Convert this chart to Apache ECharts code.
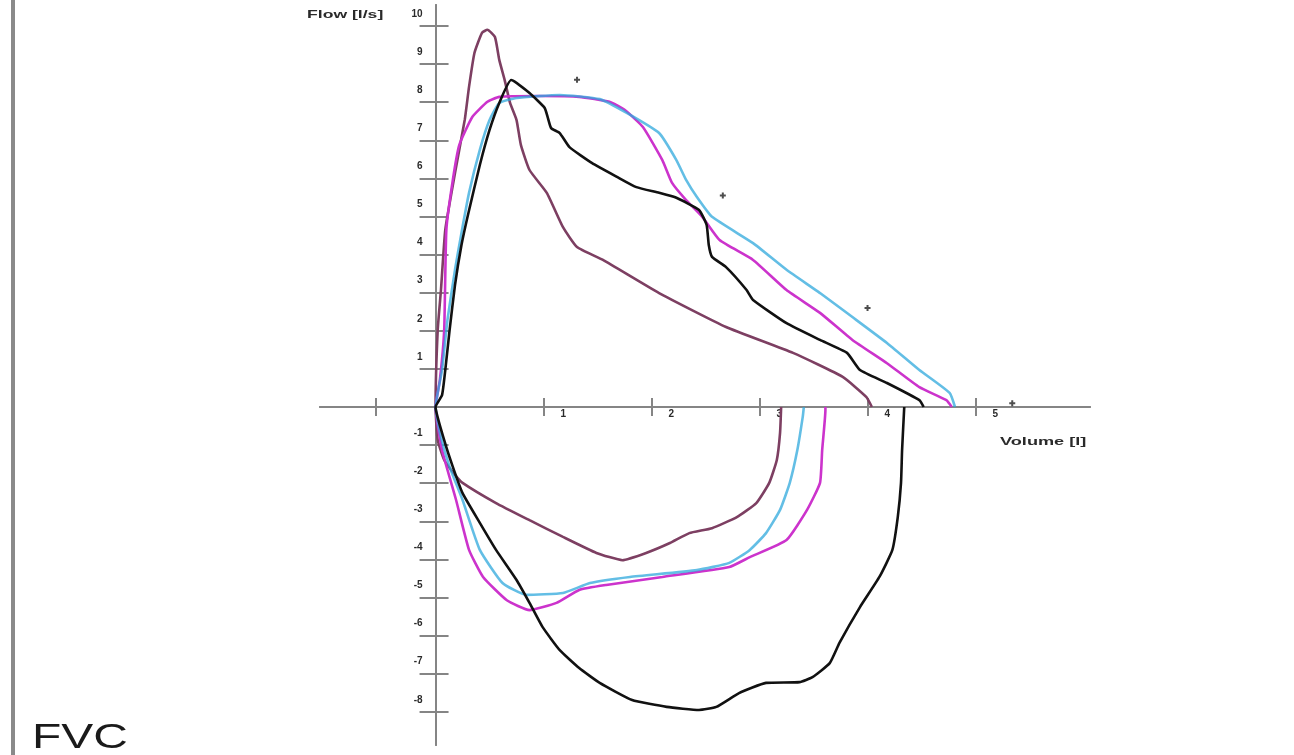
<!DOCTYPE html>
<html><head><meta charset="utf-8">
<script src="https://cdn.jsdelivr.net/npm/echarts@6/dist/echarts.min.js"></script>
<style>html,body{margin:0;padding:0;background:#fff}#c{width:1294px;height:755px}</style>
</head><body><div id="c"></div>
<script>
// Flow-volume loops: [volume (l), flow (l/s)]
const maroonExp = [[0,0],[0.02,2.02],[0.05,3.07],[0.09,4.65],[0.18,6.14],[0.27,7.53],[0.31,8.40],[0.36,9.29],[0.43,9.82],[0.48,9.90],[0.55,9.71],[0.59,9.11],[0.64,8.58],[0.69,7.98],[0.75,7.53],[0.79,6.88],[0.87,6.22],[1.03,5.62],[1.18,4.72],[1.31,4.20],[1.55,3.86],[2.07,2.99],[2.69,2.10],[3.31,1.42],[3.77,0.79],[3.99,0.26],[4.04,0]];
const maroonInsp = [[0,0],[0.02,-0.87],[0.08,-1.39],[0.18,-1.78],[0.25,-1.99],[0.56,-2.52],[0.87,-2.97],[1.18,-3.41],[1.49,-3.83],[1.73,-4.02],[1.95,-3.83],[2.17,-3.57],[2.35,-3.31],[2.56,-3.18],[2.79,-2.89],[2.97,-2.52],[3.09,-1.99],[3.16,-1.39],[3.19,-0.68],[3.20,0]];
const blackExp = [[0,0],[0.06,0.31],[0.09,0.97],[0.13,2.02],[0.18,3.20],[0.24,4.25],[0.30,5.04],[0.41,6.35],[0.50,7.27],[0.59,7.98],[0.70,8.58],[0.87,8.24],[1.01,7.85],[1.04,7.59],[1.07,7.32],[1.15,7.19],[1.24,6.82],[1.45,6.40],[1.68,6.04],[1.86,5.77],[2.07,5.62],[2.23,5.49],[2.44,5.17],[2.51,4.78],[2.53,4.25],[2.56,3.94],[2.69,3.67],[2.88,3.07],[2.94,2.81],[3.25,2.20],[3.56,1.76],[3.81,1.42],[3.93,0.97],[4.18,0.63],[4.48,0.18],[4.52,0]];
const blackInsp = [[0,0],[0.08,-0.87],[0.16,-1.57],[0.25,-2.26],[0.41,-3.04],[0.56,-3.75],[0.75,-4.54],[0.87,-5.14],[0.99,-5.77],[1.15,-6.38],[1.33,-6.85],[1.52,-7.24],[1.82,-7.69],[2.14,-7.87],[2.44,-7.95],[2.60,-7.87],[2.81,-7.51],[3.06,-7.24],[3.37,-7.22],[3.49,-7.09],[3.65,-6.72],[3.74,-6.19],[3.93,-5.25],[4.11,-4.46],[4.23,-3.75],[4.28,-2.89],[4.31,-1.99],[4.32,-1.13],[4.34,0]];
const magentaExp = [[0,0],[0.04,0.71],[0.08,2.02],[0.10,4.65],[0.16,5.96],[0.22,6.88],[0.34,7.61],[0.48,8.01],[0.59,8.14],[0.96,8.16],[1.33,8.14],[1.61,8.01],[1.75,7.80],[1.92,7.35],[2.10,6.48],[2.19,5.88],[2.32,5.43],[2.47,4.99],[2.63,4.38],[2.94,3.86],[3.25,3.07],[3.56,2.47],[3.86,1.76],[4.18,1.15],[4.48,0.52],[4.73,0.18],[4.78,0]];
const magentaInsp = [[0,0],[0.06,-1.13],[0.19,-2.44],[0.31,-3.75],[0.44,-4.46],[0.66,-5.07],[0.87,-5.33],[1.12,-5.14],[1.33,-4.80],[1.58,-4.67],[2.10,-4.46],[2.72,-4.20],[2.91,-3.94],[3.25,-3.49],[3.44,-2.70],[3.56,-1.99],[3.58,-1.13],[3.61,-0.08],[3.61,0]];
const cyanExp = [[0,0],[0.06,0.97],[0.11,2.28],[0.18,3.60],[0.24,4.57],[0.31,5.62],[0.41,6.75],[0.50,7.53],[0.59,7.98],[0.75,8.11],[1.15,8.19],[1.52,8.08],[1.77,7.72],[2.07,7.19],[2.23,6.48],[2.32,5.96],[2.42,5.51],[2.56,4.99],[2.94,4.30],[3.25,3.60],[3.56,2.99],[3.86,2.36],[4.18,1.68],[4.48,0.97],[4.76,0.37],[4.81,0]];
const cyanInsp = [[0,0],[0.04,-0.68],[0.13,-1.57],[0.25,-2.44],[0.41,-3.75],[0.62,-4.62],[0.84,-4.93],[1.18,-4.88],[1.43,-4.62],[1.80,-4.46],[2.42,-4.28],[2.72,-4.09],[2.91,-3.75],[3.06,-3.31],[3.19,-2.70],[3.28,-1.99],[3.35,-1.13],[3.40,-0.26],[3.41,0]];
const markers = [[1.31,8.59],[2.66,5.55],[4.0,2.60],[5.34,0.10]];
const xTickValues = [-0.55,1,2,3,4,5];
const xLabelValues = [1,2,3,4,5];
const yTickValues = [-8,-7,-6,-5,-4,-3,-2,-1,0,1,2,3,4,5,6,7,8,9,10];
const yLabelValues = [-8,-7,-6,-5,-4,-3,-2,-1,1,2,3,4,5,6,7,8,9,10];

const X_MIN = -1.07, X_MAX = 6.06, Y_MIN = -8.87, Y_MAX = 10.55;
const GRID = { left: 320, right: 204, top: 5, bottom: 10 };
const W = 1294, H = 755;
// offsets that bring the label-only axes onto the zero lines
const plotW = W - GRID.left - GRID.right, plotH = H - GRID.top - GRID.bottom;
const yAxisOffset = -(-X_MIN / (X_MAX - X_MIN)) * plotW;
const xAxisOffset = -(-Y_MIN / (Y_MAX - Y_MIN)) * plotH;

const loop = (insp, exp) => insp.slice().reverse().concat(exp.slice(1));
const chart = echarts.init(document.getElementById('c'));
const axisColor = '#858585';
const lineSeries = (name, data, color, opacity) => ({
  name, type: 'line', data, showSymbol: false, symbol: 'none', smooth: 0.15,
  lineStyle: { color, width: 2.6, opacity: opacity }, z: 3, animation: false
});
const labelStyle = { color: '#2a2a2a', fontSize: 10, fontWeight: 'bold', fontFamily: '"Liberation Sans", Arial' };
chart.setOption({
  animation: false,
  backgroundColor: '#ffffff',
  grid: GRID,
  xAxis: [
    { type: 'value', min: X_MIN, max: X_MAX, position: 'bottom',
      axisLine: { onZero: true, onZeroAxisIndex: 0, lineStyle: { color: axisColor, width: 2 } },
      axisTick: { show: true, customValues: xTickValues, length: 9, lineStyle: { color: axisColor, width: 2 } },
      axisLabel: { show: false }, splitLine: { show: false } },
    { type: 'value', min: X_MIN, max: X_MAX, position: 'top',
      axisLine: { onZero: true, onZeroAxisIndex: 0, lineStyle: { color: axisColor, width: 2 } },
      axisTick: { show: true, customValues: xTickValues, length: 9, lineStyle: { color: axisColor, width: 2 } },
      axisLabel: { show: false }, splitLine: { show: false } },
    { type: 'value', min: X_MIN, max: X_MAX, position: 'bottom', offset: xAxisOffset,
      axisLine: { show: false, onZero: false }, axisTick: { show: false },
      axisLabel: Object.assign({ customValues: xLabelValues, align: 'left', padding: [0,0,0,17], margin: 2 }, labelStyle),
      splitLine: { show: false } }
  ],
  yAxis: [
    { type: 'value', min: Y_MIN, max: Y_MAX, position: 'left',
      axisLine: { onZero: true, onZeroAxisIndex: 0, lineStyle: { color: axisColor, width: 2 } },
      axisTick: { show: true, customValues: yTickValues, length: 16, lineStyle: { color: axisColor, width: 2 } },
      axisLabel: { show: false }, splitLine: { show: false } },
    { type: 'value', min: Y_MIN, max: Y_MAX, position: 'right',
      axisLine: { onZero: true, onZeroAxisIndex: 0, lineStyle: { color: axisColor, width: 2 } },
      axisTick: { show: true, customValues: yTickValues, length: 13, lineStyle: { color: axisColor, width: 2 } },
      axisLabel: { show: false }, splitLine: { show: false } },
    { type: 'value', min: Y_MIN, max: Y_MAX, position: 'left', offset: yAxisOffset,
      axisLine: { show: false, onZero: false }, axisTick: { show: false },
      axisLabel: Object.assign({ customValues: yLabelValues, verticalAlign: 'bottom', padding: [0,0,7,0], margin: 13 }, labelStyle),
      splitLine: { show: false } }
  ],
  series: [
    lineSeries('Curve A', loop(maroonInsp, maroonExp), '#7d3f62', 1),
    lineSeries('Curve C', loop(magentaInsp, magentaExp), '#cc33cc', 1),
    lineSeries('Curve D', loop(cyanInsp, cyanExp), '#2fa8dc', 0.75),
    lineSeries('Curve B', loop(blackInsp, blackExp), '#111111', 1),
    { name: 'Markers', type: 'scatter', data: markers, symbol: 'path://M2,0H4V2H6V4H4V6H2V4H0V2H2Z', symbolSize: 6,
      itemStyle: { color: '#222' }, z: 4 }
  ],
  graphic: [
    { type: 'line', shape: { x1: 13, y1: 0, x2: 13, y2: 755 }, style: { stroke: '#8a8a8a', lineWidth: 4 } },
    { type: 'text', x: 307, y: 15, scaleX: 1.6, style: { text: 'Flow [l/s]', font: 'bold 11px "Liberation Sans", Arial', fill: '#2a2a2a', verticalAlign: 'middle' } },
    { type: 'text', x: 1000, y: 442, scaleX: 1.65, style: { text: 'Volume [l]', font: 'bold 11px "Liberation Sans", Arial', fill: '#2a2a2a', verticalAlign: 'middle' } },
    { type: 'text', x: 32, y: 738, scaleX: 1.37, style: { text: 'FVC', font: '35px "Liberation Sans", Arial', fill: '#1a1a1a', verticalAlign: 'middle' } }
  ]
});
</script></body></html>
